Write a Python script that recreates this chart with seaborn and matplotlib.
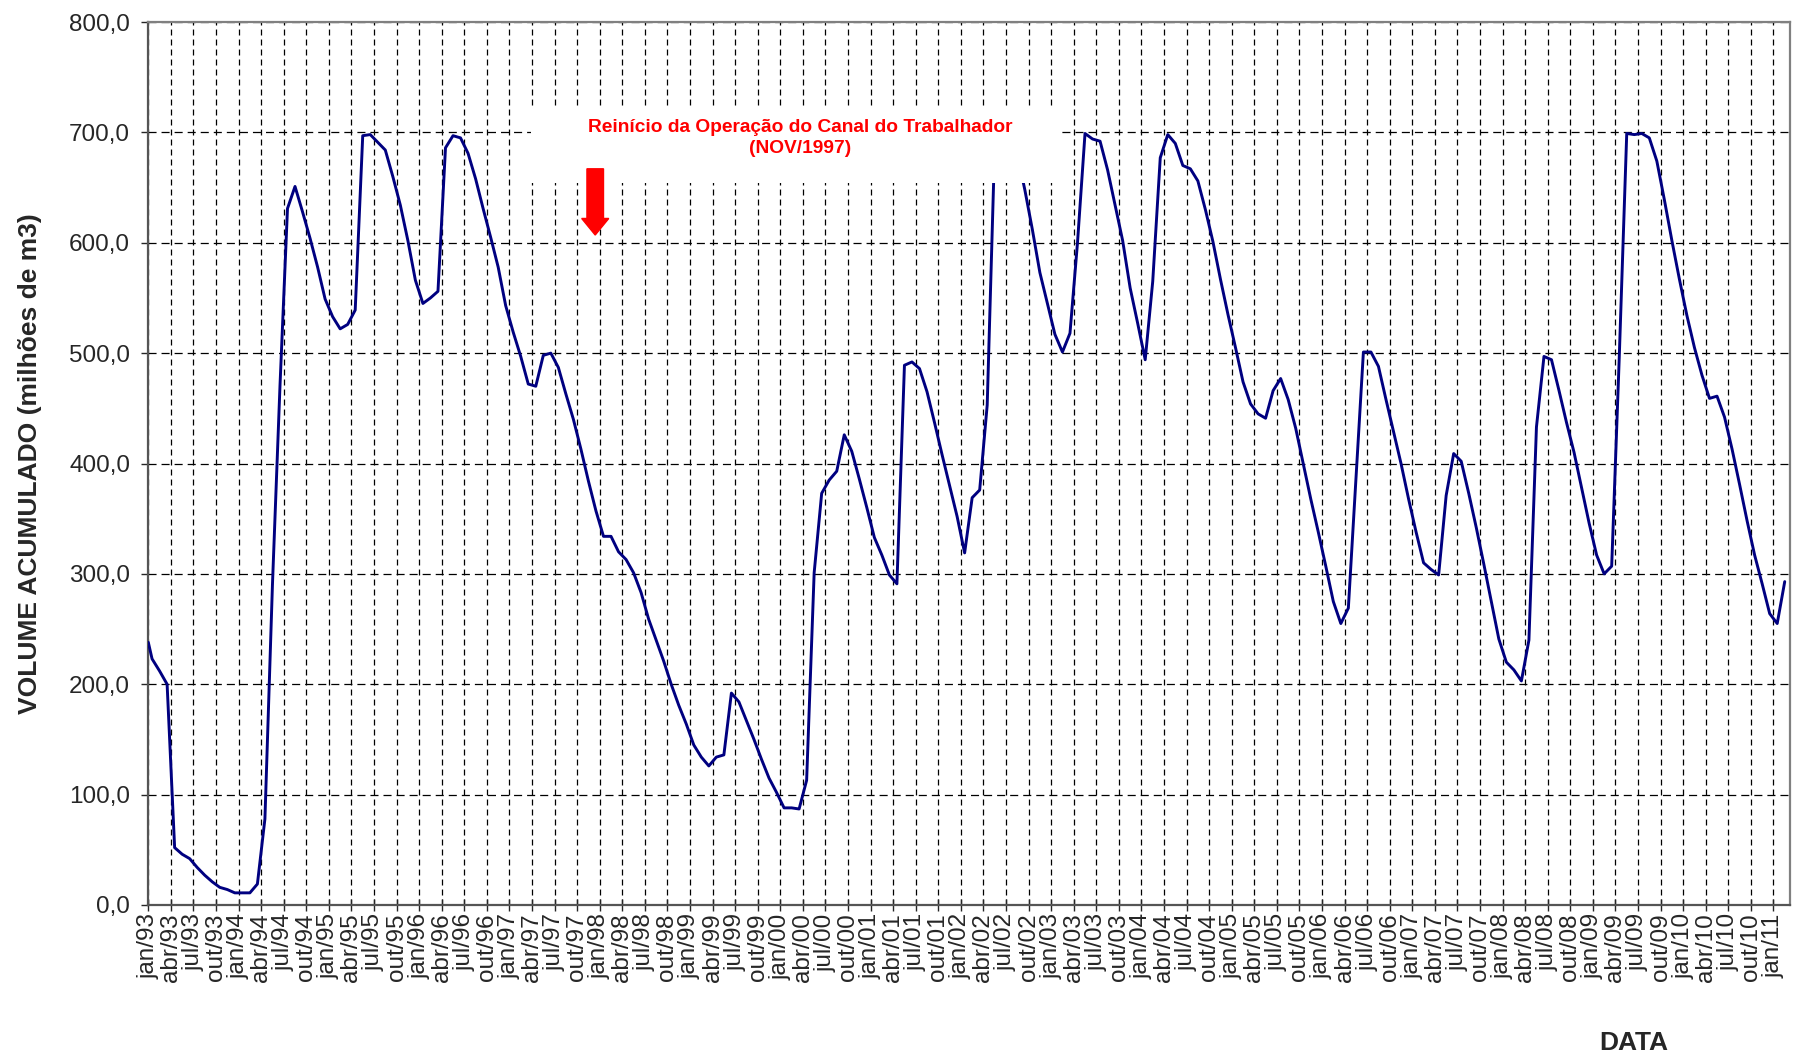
import numpy as np
import pandas as pd
import matplotlib
matplotlib.use('Agg')
import matplotlib.pyplot as plt
from matplotlib.patches import Rectangle
from matplotlib.ticker import FuncFormatter
import seaborn as sns

# volume acumulado (milhoes de m3), one value per month jan/93 .. fev/11
start_volume = 238
volume = [
    223, 212, 200, 52, 46, 42, 34, 27, 21, 16, 14, 11,          # 1993
    11, 11, 19, 78, 290, 470, 631, 651, 628, 604, 578, 549,     # 1994
    533, 522, 526, 539, 697, 698, 691, 684, 660, 634, 602, 566, # 1995
    545, 550, 556, 686, 697, 695, 681, 658, 631, 605, 578, 543, # 1996
    519, 497, 472, 470, 498, 500, 487, 463, 440, 413, 384, 357, # 1997
    334, 334, 320, 313, 301, 283, 259, 240, 221, 200, 181, 164, # 1998
    145, 134, 126, 134, 136, 192, 184, 167, 150, 132, 115, 102, # 1999
    88, 88, 87, 113, 301, 373, 385, 393, 426, 411, 386, 360,    # 2000
    333, 317, 299, 291, 489, 492, 486, 465, 437, 408, 380, 352, # 2001
    319, 369, 376, 453, 690, 702, 698, 680, 648, 612, 573, 545, # 2002
    517, 501, 518, 600, 699, 694, 692, 666, 634, 602, 559, 527, # 2003
    494, 565, 677, 698, 690, 670, 667, 656, 630, 601, 567, 535, # 2004
    505, 474, 454, 445, 441, 466, 477, 458, 432, 400, 368, 338, # 2005
    307, 275, 255, 269, 385, 501, 501, 488, 458, 429, 400, 368, # 2006
    338, 310, 304, 299, 371, 409, 402, 373, 342, 309, 275, 241, # 2007
    220, 213, 203, 240, 433, 497, 494, 466, 437, 410, 378, 346, # 2008
    317, 300, 307, 495, 699, 698, 699, 695, 674, 639, 602, 567, # 2009
    534, 505, 480, 459, 461, 442, 413, 381, 348, 317, 291, 264, # 2010
    255, 293,                                                   # 2011
]

tick_months = ['jan', 'abr', 'jul', 'out']
tick_years = ['93', '94', '95', '96', '97', '98', '99', '00', '01',
              '02', '03', '04', '05', '06', '07', '08', '09', '10', '11']
tick_labels = [f'{m}/{y}' for y in tick_years for m in tick_months][:-3]

note_text = 'Reinício da Operação do Canal do Trabalhador\n(NOV/1997)'

# month axis: tick at start of month, monthly values plotted mid-month
df = pd.DataFrame({
    'mes': np.r_[0.0, np.arange(len(volume)) + 0.5],
    'volume': np.r_[start_volume, volume],
})

sns.set_style('white')
plt.rcParams['font.family'] = ['Liberation Sans', 'DejaVu Sans']
plt.rcParams['lines.scale_dashes'] = False

fig = plt.figure(figsize=(17.98, 10.64), dpi=100)
ax = fig.add_axes([148.3 / 1798, 1 - 905 / 1064, (1790 - 148.3) / 1798, (905 - 22) / 1064])

sns.lineplot(data=df, x='mes', y='volume', ax=ax, color='#000080',
             linewidth=2.1, estimator=None, sort=True, zorder=3)

ax.set_xlim(0, 218.2)
ax.set_ylim(0, 800)
ax.set_xticks(np.arange(len(tick_labels)) * 3)
ax.set_xticklabels(tick_labels, rotation=90, fontsize=17.5)
ax.set_yticks(np.arange(0, 801, 100))
ax.yaxis.set_major_formatter(FuncFormatter(lambda v, p: f'{v:.1f}'.replace('.', ',')))
ax.tick_params(axis='y', labelsize=17.5, direction='out', length=5, width=1, pad=8, left=True)
ax.tick_params(axis='x', direction='inout', length=8, width=1, pad=2, bottom=True)

ax.grid(axis='x', color='black', linewidth=0.9, linestyle=(0, (4.3, 2.9)))
ax.grid(axis='y', color='black', linewidth=0.9, linestyle=(0, (5.8, 3.6)))
ax.set_axisbelow(True)

for side in ['left', 'bottom']:
    ax.spines[side].set_color('#555555')
    ax.spines[side].set_linewidth(1.6)
for side in ['top', 'right']:
    ax.spines[side].set_color('#808080')
    ax.spines[side].set_linewidth(1.6)

ax.set_ylabel('VOLUME ACUMULADO (milhões de m3)', fontsize=19, fontweight='bold')
ax.yaxis.set_label_coords(-0.0647, 0.5)
ax.set_xlabel('DATA', fontsize=19, fontweight='bold')
ax.xaxis.set_label_coords(0.905, -0.143)

# annotation box hiding the grid (and the 2002 peak), with red text and arrow
ax.add_patch(Rectangle((50.9, 654), 121.45 - 50.9, 722 - 654, facecolor='white',
                       edgecolor='none', zorder=4))
ax.text(86.7, 695, note_text, color='#ff0000', fontsize=13.8, fontweight='bold',
        ha='center', va='center', linespacing=1.3, zorder=5)
ax.arrow(59.4, 667, 0, -60, width=2.2, head_width=3.6, head_length=15,
         length_includes_head=True, color='#ff0000', zorder=5)

fig.savefig('out.png', dpi=100)
